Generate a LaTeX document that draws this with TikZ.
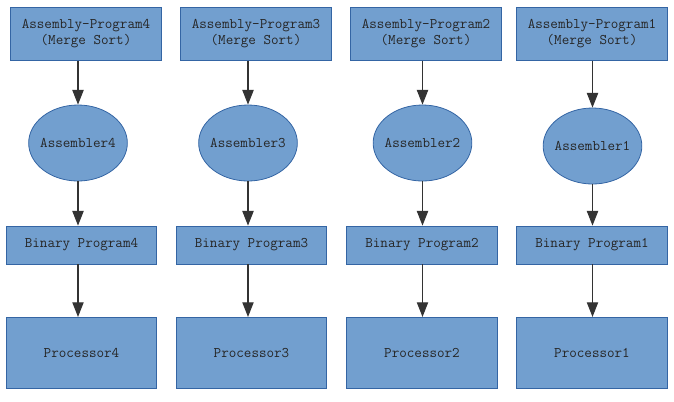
\documentclass[tikz,border=0pt]{standalone}
\usepackage{tikz}
\usetikzlibrary{arrows.meta}
\usetikzlibrary{shapes.geometric}
\definecolor{boxblue}{HTML}{729FCF}
\definecolor{edgeblue}{HTML}{3465A4}

\begin{document}
\begin{tikzpicture}[x=0.75pt, y=-0.75pt,
    every node/.style={font=\ttfamily\fontsize{11}{12}\selectfont, text=black!85, inner sep=0pt, align=center},
    progbox/.style={draw=edgeblue, fill=boxblue, line width=0.6pt, minimum width=113pt, minimum height=39.5pt},
    asmblob/.style={ellipse, draw=edgeblue, fill=boxblue, line width=0.6pt, inner xsep=-3pt, minimum width=74pt, minimum height=57pt},
    binbox/.style={draw=edgeblue, fill=boxblue, line width=0.6pt, minimum width=113pt, minimum height=28.5pt},
    cpubox/.style={draw=edgeblue, fill=boxblue, line width=0.6pt, minimum width=113pt, minimum height=53.5pt},
    flow/.style={draw=black!80, line width=0.8pt, -{Triangle[length=11pt, width=8.5pt]}}]
  \useasboundingbox (0,0) rectangle (674,401);

  % Assembly programs
  \node[progbox] (prog4) at (86,34)  {Assembly-Program4\\(Merge Sort)};
  \node[progbox] (prog3) at (256,34) {Assembly-Program3\\(Merge Sort)};
  \node[progbox] (prog2) at (426,34) {Assembly-Program2\\(Merge Sort)};
  \node[progbox] (prog1) at (592,34) {Assembly-Program1\\(Merge Sort)};

  % Assemblers
  \node[asmblob] (asm4) at (78,143)    {Assembler4};
  \node[asmblob] (asm3) at (248,143)   {Assembler3};
  \node[asmblob] (asm2) at (422.5,143) {Assembler2};
  \node[asmblob] (asm1) at (592.5,146) {Assembler1};

  % Binary programs
  \node[binbox] (bin4) at (81.5,245)  {Binary Program4};
  \node[binbox] (bin3) at (251.5,245) {Binary Program3};
  \node[binbox] (bin2) at (422,245)   {Binary Program2};
  \node[binbox] (bin1) at (592,245)   {Binary Program1};

  % Processors
  \node[cpubox] (cpu4) at (81.5,353)  {Processor4};
  \node[cpubox] (cpu3) at (251.5,353) {Processor3};
  \node[cpubox] (cpu2) at (422,353)   {Processor2};
  \node[cpubox] (cpu1) at (592,353)   {Processor1};

  % Program -> assembler
  \draw[flow] (asm4.north |- prog4.south) -- (asm4.north);
  \draw[flow] (asm3.north |- prog3.south) -- (asm3.north);
  \draw[flow] (asm2.north |- prog2.south) -- (asm2.north);
  \draw[flow] (asm1.north |- prog1.south) -- (asm1.north);

  % Assembler -> binary
  \draw[flow] (asm4.south) -- (asm4.south |- bin4.north);
  \draw[flow] (asm3.south) -- (asm3.south |- bin3.north);
  \draw[flow] (asm2.south) -- (asm2.south |- bin2.north);
  \draw[flow] (asm1.south) -- (asm1.south |- bin1.north);

  % Binary -> processor
  \draw[flow] (asm4.south |- bin4.south) -- (asm4.south |- cpu4.north);
  \draw[flow] (asm3.south |- bin3.south) -- (asm3.south |- cpu3.north);
  \draw[flow] (asm2.south |- bin2.south) -- (asm2.south |- cpu2.north);
  \draw[flow] (asm1.south |- bin1.south) -- (asm1.south |- cpu1.north);
\end{tikzpicture}
\end{document}
